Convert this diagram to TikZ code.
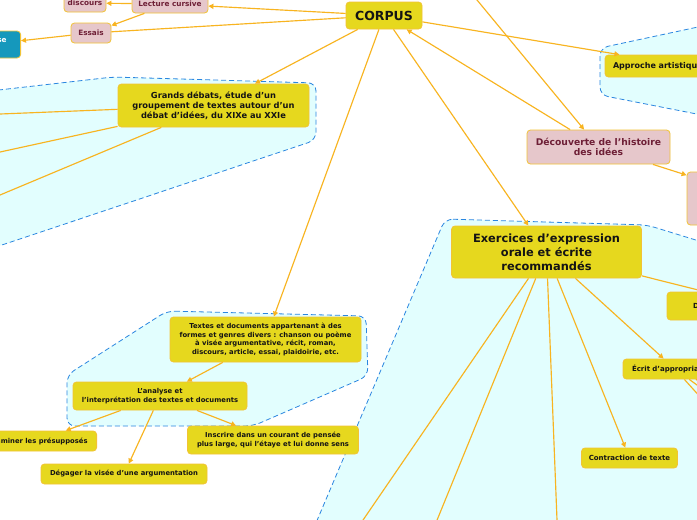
\documentclass[tikz,border=0pt]{standalone}
\usepackage{fontspec}
\setmainfont{DejaVu Sans}
\usetikzlibrary{arrows.meta}
\definecolor{yel}{HTML}{E6D81E}
\definecolor{yelb}{HTML}{F2C335}
\definecolor{lnc}{HTML}{F8B420}
\definecolor{pnk}{HTML}{E6C7CB}
\definecolor{pnkt}{HTML}{6E1F36}
\definecolor{cya}{HTML}{E2FEFE}
\definecolor{dsh}{HTML}{2A86E0}
\definecolor{tea}{HTML}{1598BC}
\begin{document}
\begin{tikzpicture}[x=1pt,y=-1pt,
  ybox/.style={draw=yelb, fill=yel, rounded corners=3.5pt, line width=0.8pt,
    align=center, inner sep=0pt, text=black!92,
    font=\bfseries\fontsize{6.8}{8.8}\selectfont},
  pbox/.style={ybox, fill=pnk, text=pnkt},
  link/.style={draw=lnc, line width=1.15pt},
  arr/.style={link, -{Triangle[length=5pt,width=5pt]}},
  grp/.style={draw=dsh, dash pattern=on 5pt off 3pt, fill=cya, line width=0.8pt, rounded corners=8pt}
]
\useasboundingbox (0,0) rectangle (697,520);
\clip (0,0) rectangle (697,520);
\fill[white] (0,0) rectangle (697,520);

% groups
\path[grp] (-10,91) -- (113,77) -- (316,83) -- (316,140) -- (-10,249) -- cycle;
\path[grp] (167,311) -- (366,316) -- (368,376) -- (253,426) -- (67,426) -- (67,375) -- cycle;
\path[grp] (445,219) -- (647,225) -- (712,245) -- (712,530) -- (313,530) -- cycle;
\path[grp] (712,24) -- (600,48) -- (600,95) -- (712,117) -- cycle;

% nodes
\node[ybox, minimum width=76, minimum height=27, font=\bfseries\fontsize{12.5}{14}\selectfont] (corpus) at (384,15.5) {CORPUS};
\node[pbox, minimum width=76, minimum height=18, font=\bfseries\fontsize{7.3}{9}\selectfont] (lecture) at (170,4) {Lecture cursive};
\node[pbox, minimum width=42, minimum height=18, font=\bfseries\fontsize{7.3}{9}\selectfont] (discours) at (85,3) {discours};
\node[pbox, minimum width=40, minimum height=20, font=\bfseries\fontsize{7.3}{9}\selectfont] (essais) at (91,33) {Essais};
\node[ybox, fill=tea, text=white, anchor=east, text width=40, align=right, inner xsep=14pt, minimum height=27, font=\bfseries\fontsize{7.3}{9}\selectfont] (synth) at (21,44.5) {se\\\mbox{}};

\node[ybox, minimum width=191, minimum height=43, font=\bfseries\fontsize{8.3}{10}\selectfont] (grands) at (213.5,105.5)
  {Grands débats, étude d’un\\groupement de textes autour d’un\\débat d’idées, du XIXe au XXIe};
\node[ybox, minimum width=191, minimum height=45] (textes) at (265.5,339.5)
  {Textes et documents appartenant à des\\formes et genres divers : chanson ou poème\\à visée argumentative, récit, roman,\\discours, article, essai, plaidoirie, etc.};
\node[ybox, minimum width=174, minimum height=28] (analyse) at (160,396)
  {L’analyse et\\l’interprétation des textes et documents};
\node[ybox, anchor=east, inner xsep=9pt, minimum height=20] (examiner) at (97,441) {Examiner les présupposés};
\node[ybox, minimum width=166, minimum height=20] (degager) at (124,474) {Dégager la visée d’une argumentation};
\node[ybox, minimum width=171, minimum height=28] (inscrire) at (273,440)
  {Inscrire dans un courant de pensée\\plus large, qui l’étaye et lui donne sens};

\node[ybox, minimum width=190, minimum height=52, font=\bfseries\fontsize{11.4}{14}\selectfont] (exercices) at (546.5,252)
  {Exercices d’expression\\orale et écrite\\recommandés};
\node[ybox, minimum width=96, minimum height=20, font=\bfseries\fontsize{7}{9}\selectfont] (contraction) at (629.5,458) {Contraction de texte};
\node[ybox, minimum height=20, text width=86, inner xsep=9pt, align=left, font=\bfseries\fontsize{7}{9}\selectfont] (ecrit) at (675,369) {Écrit d'appropriation};
\node[ybox, minimum height=28, text width=138, inner xsep=26pt, align=left, font=\bfseries\fontsize{7}{9}\selectfont] (dnode) at (762,306) {D};

\node[ybox, minimum height=22, text width=150, inner xsep=8pt, align=left, font=\bfseries\fontsize{8}{10}\selectfont] (approche) at (688,66) {Approche artistique};
\node[pbox, minimum width=143, minimum height=34, font=\bfseries\fontsize{9.2}{10}\selectfont] (decouverte) at (598.5,147)
  {Découverte de l’histoire\\des idées};
\node[pbox, minimum width=146, minimum height=53] (rpink) at (760,198.5) {};

% free ends
\coordinate (topsrc) at (472.9,-5);
\coordinate (g1) at (-10,114.4);
\coordinate (g2) at (-10,154.2);
\coordinate (g3) at (-10,199.2);
\coordinate (e1) at (356.2,530);
\coordinate (e2) at (433,530);
\coordinate (e3) at (557.4,530);
\coordinate (f1) at (730,430);
\coordinate (f2) at (745,420);
\coordinate (f3) at (765,414);
\coordinate (f4) at (785,408);
\coordinate (f5) at (805,403);

% connectors
\draw[arr] (corpus) -- (lecture);
\draw[arr] (lecture) -- (discours);
\draw[arr] (lecture) -- (essais);
\draw[link] (corpus) -- (essais);
\draw[arr] (essais) -- (synth);
\draw[arr] (corpus) -- (grands);
\draw[link] (grands) -- (g1);
\draw[link] (grands) -- (g2);
\draw[link] (grands) -- (g3);
\draw[arr] (corpus) -- (textes);
\draw[arr] (textes) -- (analyse);
\draw[arr] (analyse) -- (examiner);
\draw[arr] (analyse) -- (degager);
\draw[arr] (analyse) -- (inscrire);
\draw[arr] (corpus) -- (exercices);
\draw[link] (exercices) -- (e1);
\draw[link] (exercices) -- (e2);
\draw[link] (exercices) -- (e3);
\draw[arr] (exercices) -- (contraction);
\draw[arr] (exercices) -- (ecrit);
\draw[arr] (exercices) -- (dnode);
\draw[link] (ecrit) -- (f1);
\draw[link] (ecrit) -- (f2);
\draw[link] (ecrit) -- (f3);
\draw[link] (ecrit) -- (f4);
\draw[link] (ecrit) -- (f5);
\draw[arr] (corpus) -- (approche);
\draw[arr] (decouverte) -- (corpus);
\draw[arr] (topsrc) -- (decouverte);
\draw[arr] (decouverte) -- (rpink);
\end{tikzpicture}
\end{document}
